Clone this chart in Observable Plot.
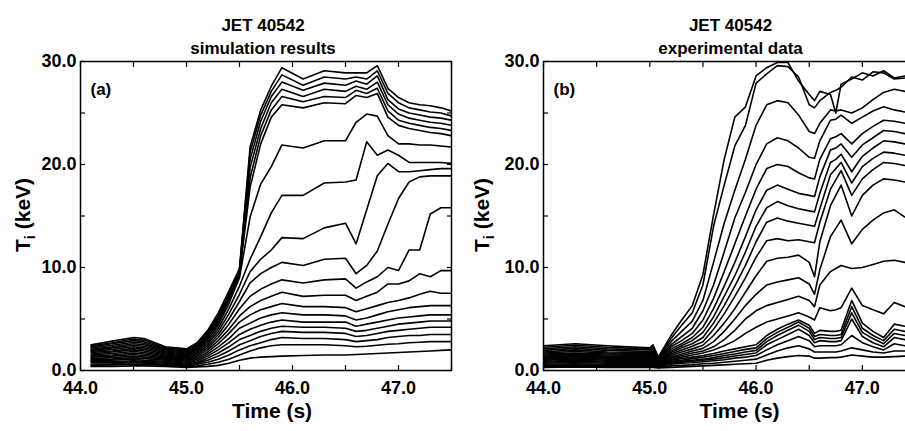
<!DOCTYPE html>
<html><head><meta charset="utf-8">
<script src="https://cdn.jsdelivr.net/npm/d3@7"></script>
<script src="https://cdn.jsdelivr.net/npm/@observablehq/plot@0.6"></script>
<style>
html,body{margin:0;padding:0;background:#fff;}
#wrap{position:relative;width:905px;height:431px;overflow:hidden;background:#fff;}
.panel{position:absolute;top:0;width:460px;height:431px;}
.panel svg{max-width:none !important;width:460px;height:431px;display:block;}
</style></head><body><div id="wrap"></div>
<script>
// ---------- axis & label data ----------
const xDomain = [44.0, 47.5];
const yDomain = [0, 30];
const xMinorTicks = [44.0, 44.5, 45.0, 45.5, 46.0, 46.5, 47.0, 47.5];
const xLabelTicks = [44.0, 45.0, 46.0, 47.0];
const yMinorTicks = [0, 5, 10, 15, 20, 25, 30];
const yLabelTicks = [0, 10, 20, 30];
const xLabel = "Time (s)";
const yLabelMain = "T", yLabelSub = "i", yLabelUnit = "\u00a0(keV)";
const titleTop = "JET 40542";
const titleA = "simulation results", titleB = "experimental data";
const tagA = "(a)", tagB = "(b)";

// ---------- panel (a): simulation, Ti (keV) per radial channel ----------
const simTimes = [44.1,44.3,44.5,44.6,44.8,45.0,45.1,45.2,45.3,45.4,45.5,45.6,45.7,45.8,45.9,46.1,46.3,46.5,46.6,46.7,46.8,46.9,47.0,47.1,47.2,47.3,47.4,47.5];
const simR01 = [2.5,2.85,3.2,3.1,2.3,2.1,2.7,3.9,5.6,7.7,9.9,21.7,25.3,27.6,29.4,28.3,29.1,28.9,28.9,28.9,29.6,27.4,26.5,26.0,25.8,25.7,25.5,25.2];
const simR02 = [2.4,2.7,3.05,2.95,2.2,2.0,2.6,3.75,5.4,7.6,9.8,21.2,24.8,27.1,28.7,27.7,28.5,28.3,28.5,28.3,29.1,26.9,26.0,25.5,25.3,25.1,25.0,24.7];
const simR03 = [2.3,2.6,2.9,2.8,2.1,1.9,2.5,3.6,5.2,7.4,9.7,20.5,24.2,26.6,28.0,27.2,27.9,27.7,28.1,27.8,28.6,26.3,25.4,25.0,24.8,24.6,24.5,24.3];
const simR04 = [2.2,2.45,2.75,2.65,2.0,1.8,2.4,3.45,5.0,7.2,9.6,19.7,23.5,26.0,27.3,26.6,27.3,27.1,27.6,27.3,28.0,25.8,24.9,24.5,24.3,24.1,24.0,23.8];
const simR05 = [2.05,2.3,2.6,2.5,1.9,1.7,2.3,3.3,4.8,7.0,9.5,18.7,22.8,25.3,26.6,26.1,26.6,26.5,27.2,26.9,27.4,25.2,24.3,24.0,23.8,23.6,23.5,23.3];
const simR06 = [1.95,2.2,2.45,2.35,1.8,1.6,2.2,3.15,4.6,6.8,9.3,17.8,22.0,24.6,25.8,25.5,26.0,25.9,26.7,26.5,26.9,24.6,23.8,23.5,23.3,23.1,23.0,22.8];
const simR07 = [1.85,2.05,2.3,2.2,1.7,1.5,2.1,3.0,4.4,6.5,9.0,14.9,18.1,19.8,21.9,21.6,22.3,22.3,24.1,24.9,24.7,22.8,22.0,22.0,21.9,21.9,21.8,21.7];
const simR08 = [1.75,1.9,2.15,2.05,1.6,1.4,2.0,2.8,4.1,6.0,8.2,10.8,13.0,15.3,17.0,17.0,18.2,18.3,18.5,22.2,20.9,21.4,20.9,20.2,20.2,20.2,20.2,20.1];
const simR09 = [1.6,1.8,2.0,1.9,1.5,1.3,1.85,2.6,3.8,5.5,7.4,9.6,10.8,11.7,12.9,12.8,13.85,14.3,12.3,15.6,18.9,20.1,19.3,19.3,19.4,19.5,19.6,19.6];
const simR10 = [1.5,1.65,1.85,1.75,1.4,1.2,1.7,2.4,3.5,5.0,6.7,8.5,9.4,10.0,10.5,10.2,10.8,10.9,9.4,10.2,11.6,14.2,16.7,18.3,18.8,18.9,18.9,18.9];
const simR11 = [1.4,1.5,1.7,1.6,1.3,1.1,1.55,2.2,3.2,4.5,6.0,7.2,7.9,8.4,8.8,8.5,8.8,8.9,8.0,8.6,9.1,10.0,9.7,11.7,11.7,15.2,15.8,15.8];
const simR12 = [1.3,1.4,1.55,1.45,1.2,1.0,1.4,2.0,2.9,4.0,5.3,6.2,6.8,7.2,7.6,7.2,7.3,7.3,6.8,7.2,7.6,8.4,8.4,8.7,9.4,9.1,9.7,9.7];
const simR13 = [1.15,1.25,1.4,1.3,1.1,0.9,1.25,1.8,2.6,3.6,4.7,5.4,5.9,6.2,6.5,6.2,6.2,6.1,5.7,6.0,6.3,6.6,6.8,7.05,7.4,7.7,7.5,7.5];
const simR14 = [1.05,1.1,1.25,1.15,1.0,0.8,1.1,1.6,2.3,3.1,4.1,4.6,5.1,5.4,5.6,5.4,5.4,5.3,4.9,5.1,5.4,5.7,5.9,6.1,6.2,6.3,6.3,6.3];
const simR15 = [0.95,1.0,1.1,1.0,0.9,0.7,0.95,1.4,2.0,2.7,3.5,4.0,4.4,4.7,4.9,4.7,4.7,4.7,4.3,4.5,4.7,4.9,5.1,5.2,5.3,5.4,5.4,5.4];
const simR16 = [0.85,0.85,0.95,0.9,0.8,0.6,0.8,1.2,1.7,2.3,3.0,3.4,3.8,4.1,4.3,4.2,4.2,4.1,3.8,3.9,4.1,4.3,4.5,4.6,4.7,4.8,4.8,4.8];
const simR17 = [0.75,0.75,0.85,0.8,0.7,0.5,0.7,1.0,1.4,1.9,2.5,2.9,3.3,3.6,3.8,3.7,3.7,3.6,3.3,3.4,3.6,3.8,3.9,4.0,4.1,4.2,4.2,4.2];
const simR18 = [0.6,0.65,0.75,0.7,0.6,0.45,0.6,0.8,1.1,1.5,2.0,2.4,2.7,3.0,3.2,3.1,3.1,3.0,2.8,2.9,3.0,3.2,3.3,3.4,3.4,3.5,3.5,3.5];
const simR19 = [0.5,0.55,0.6,0.6,0.5,0.4,0.45,0.6,0.8,1.1,1.5,1.9,2.2,2.4,2.5,2.5,2.5,2.4,2.3,2.35,2.45,2.55,2.6,2.7,2.75,2.8,2.8,2.8];
const simR20 = [0.4,0.4,0.45,0.45,0.4,0.3,0.35,0.4,0.5,0.7,1.0,1.2,1.3,1.35,1.4,1.45,1.5,1.5,1.55,1.6,1.65,1.7,1.75,1.8,1.85,1.9,1.95,2.0];

// ---------- panel (b): experimental data ----------
const expTimes = [44.0,44.3,44.6,45.0,45.03,45.08,45.2,45.3,45.4,45.5,45.6,45.7,45.8,45.9,46.0,46.1,46.2,46.3,46.4,46.5,46.55,46.6,46.7,46.75,46.8,46.9,47.0,47.1,47.2,47.3,47.4,47.5];
const expR01 = [2.4,2.6,2.4,2.2,2.5,1.3,3.4,4.9,6.3,9.3,15.1,20.5,24.6,25.6,28.6,29.4,29.9,29.9,28.1,26.8,26.2,27.1,26.8,25.0,27.8,28.3,28.9,28.6,29.1,28.4,28.6,28.3];
const expR02 = [2.25,2.45,2.25,2.1,2.35,1.25,3.1,4.4,5.6,8.3,14.0,18.0,21.8,23.8,27.9,28.8,29.6,29.5,28.5,25.8,25.5,26.2,27.0,27.2,27.5,28.5,28.2,29.0,28.9,28.3,28.4,28.2];
const expR03 = [2.1,2.3,2.1,2.0,2.2,1.2,2.8,3.8,4.8,6.8,10.5,14.3,17.5,20.5,23.8,25.8,26.2,26.0,24.8,23.2,23.0,24.0,25.3,25.2,25.3,25.0,25.5,26.3,27.0,27.3,27.1,26.9];
const expR04 = [1.95,2.15,1.95,1.85,2.05,1.15,2.5,3.3,4.1,5.8,8.3,11.5,14.8,17.3,20.0,22.0,22.6,22.3,21.6,20.7,20.6,22.3,24.3,24.4,24.8,24.0,24.6,25.2,25.6,25.3,25.1,24.9];
const expR05 = [1.8,2.0,1.8,1.75,1.9,1.1,2.3,2.9,3.6,4.9,7.0,9.6,12.3,15.0,17.6,19.6,20.0,19.8,19.2,18.7,18.6,20.5,22.5,22.7,23.0,22.0,23.0,23.7,24.3,24.2,24.0,23.8];
const expR06 = [1.7,1.85,1.7,1.65,1.8,1.05,2.1,2.6,3.2,4.2,6.0,8.2,10.5,13.0,15.6,17.5,18.0,17.6,17.2,17.0,16.9,18.8,21.4,21.6,22.0,20.7,21.9,22.6,23.3,23.2,23.0,22.8];
const expR07 = [1.6,1.7,1.6,1.55,1.7,1.0,1.9,2.4,2.9,3.7,5.2,7.2,9.2,11.5,14.0,15.8,16.4,16.0,15.7,15.5,15.4,17.2,20.2,20.5,21.0,19.3,20.8,21.6,22.3,22.2,22.0,21.8];
const expR08 = [1.5,1.6,1.5,1.45,1.6,0.95,1.75,2.2,2.6,3.2,4.6,6.3,8.2,10.2,12.5,14.4,14.8,14.5,14.3,14.1,14.0,15.7,19.0,19.6,20.2,18.2,19.8,20.6,21.2,21.1,20.9,20.7];
const expR09 = [1.4,1.5,1.4,1.35,1.45,0.9,1.6,2.0,2.35,2.8,4.0,5.5,7.2,9.0,11.0,12.6,12.8,12.6,12.7,12.5,12.4,14.4,17.6,18.5,19.4,17.0,18.6,19.5,20.2,20.1,19.9,19.7];
const expR10 = [1.3,1.4,1.3,1.25,1.35,0.85,1.45,1.8,2.1,2.45,3.4,4.6,6.0,7.6,9.2,10.6,10.9,11.0,11.2,10.5,9.1,12.5,16.0,17.0,18.0,15.0,17.0,18.0,18.6,18.5,18.3,18.1];
const expR11 = [1.2,1.3,1.2,1.15,1.25,0.8,1.3,1.6,1.9,2.15,2.8,3.8,5.0,6.3,7.4,8.3,8.6,8.8,9.0,8.4,7.4,9.8,13.0,13.8,14.6,12.3,13.7,14.6,15.3,15.6,14.9,14.7];
const expR12 = [1.1,1.2,1.1,1.05,1.1,0.75,1.2,1.45,1.7,1.9,2.3,3.0,3.9,5.0,5.8,6.3,6.6,6.9,7.2,6.8,6.2,8.3,9.6,9.9,10.2,9.9,10.0,10.3,10.6,10.7,10.5,10.4];
const expR13 = [1.0,1.1,1.0,0.95,1.0,0.7,1.1,1.3,1.5,1.7,2.0,2.4,2.9,3.6,4.2,4.7,5.0,5.3,5.6,5.2,4.9,6.1,5.8,5.9,6.1,8.0,6.3,5.9,5.5,6.6,6.2,6.0];
const expR14 = [0.9,1.0,0.9,0.85,0.9,0.65,1.0,1.15,1.3,1.45,1.65,1.9,2.1,2.3,2.5,3.4,4.0,4.5,4.9,4.4,3.6,3.9,3.8,3.8,3.9,6.8,4.6,3.8,3.2,4.5,4.3,4.2];
const expR15 = [0.8,0.9,0.8,0.75,0.8,0.6,0.9,1.0,1.15,1.3,1.45,1.65,1.85,2.05,2.2,3.1,3.7,4.2,4.7,4.1,3.3,3.5,3.4,3.4,3.5,6.2,4.1,3.4,2.9,4.0,3.8,3.7];
const expR16 = [0.7,0.8,0.7,0.65,0.7,0.5,0.8,0.9,1.0,1.1,1.25,1.45,1.6,1.8,1.95,2.8,3.4,3.9,4.4,3.8,3.0,3.2,3.1,3.1,3.2,5.6,3.7,3.1,2.6,3.6,3.4,3.3];
const expR17 = [0.6,0.65,0.6,0.55,0.6,0.45,0.7,0.8,0.9,1.0,1.1,1.25,1.4,1.55,1.7,2.5,3.0,3.5,4.0,3.4,2.7,2.9,2.8,2.8,2.9,5.0,3.3,2.7,2.3,3.2,3.0,2.9];
const expR18 = [0.5,0.55,0.5,0.45,0.5,0.4,0.6,0.7,0.75,0.85,0.95,1.05,1.2,1.3,1.45,2.0,2.5,2.9,3.3,2.9,2.3,2.4,2.4,2.4,2.5,3.4,2.7,2.3,2.0,2.6,2.4,2.3];
const expR19 = [0.4,0.45,0.4,0.35,0.4,0.3,0.45,0.5,0.55,0.65,0.7,0.8,0.9,1.0,1.1,1.5,1.9,2.2,2.4,2.1,1.8,1.8,1.8,1.8,1.9,2.2,2.0,1.8,1.7,1.9,1.9,1.8];
const expR20 = [0.3,0.35,0.3,0.3,0.3,0.25,0.3,0.35,0.4,0.45,0.5,0.55,0.6,0.65,0.7,1.0,1.2,1.35,1.45,1.4,1.2,1.2,1.25,1.25,1.3,1.5,1.4,1.3,1.3,1.35,1.4,1.4];

const simLines = [simR01,simR02,simR03,simR04,simR05,simR06,simR07,simR08,simR09,simR10,simR11,simR12,simR13,simR14,simR15,simR16,simR17,simR18,simR19,simR20];
const expLines = [expR01,expR02,expR03,expR04,expR05,expR06,expR07,expR08,expR09,expR10,expR11,expR12,expR13,expR14,expR15,expR16,expR17,expR18,expR19,expR20];

function toRows(times, lines) {
  return lines.flatMap((vals, i) => {
    if (vals.length !== times.length) console.warn("length mismatch", i, vals.length, times.length);
    return vals.map((v, j) => ({t: times[j], v, ch: i}));
  });
}

const FONT = "'Liberation Sans', Arial, Helvetica, sans-serif";
const blank = () => "";
const fmt1 = d3.format(".1f");

function makePanel(o) {
  const rows = toRows(o.times, o.lines);
  const svg = Plot.plot({
    width: 460, height: 431,
    marginTop: 61, marginBottom: 61, marginLeft: o.ml, marginRight: o.mr,
    style: {fontFamily: FONT, fontWeight: "bold", color: "black", background: "transparent", overflow: "visible", maxWidth: "none"},
    x: {domain: xDomain},
    y: {domain: yDomain},
    marks: [
      Plot.line(rows, {x: "t", y: "v", z: "ch", stroke: "black", strokeWidth: 1.6, clip: true}),
      Plot.axisX({ticks: xMinorTicks, anchor: "bottom", tickSize: -5, tickFormat: blank, label: null, strokeWidth: 1.2}),
      Plot.axisX({ticks: xMinorTicks, anchor: "top", tickSize: -5, tickFormat: blank, label: null, strokeWidth: 1.2}),
      Plot.axisY({ticks: yMinorTicks, anchor: "left", tickSize: -5, tickFormat: blank, label: null, strokeWidth: 1.2}),
      Plot.axisY({ticks: yMinorTicks, anchor: "right", tickSize: -5, tickFormat: blank, label: null, strokeWidth: 1.2}),
      Plot.axisX({ticks: xLabelTicks, anchor: "bottom", tickSize: 0, tickPadding: 11, tickFormat: fmt1, fontSize: 18, fontWeight: "bold", label: null}),
      Plot.axisY({ticks: yLabelTicks, anchor: "left", tickSize: 0, tickPadding: 4, tickFormat: fmt1, fontSize: 18, fontWeight: "bold", label: null}),
      Plot.frame({stroke: "black", strokeWidth: 1.5}),
      Plot.text([titleTop], {frameAnchor: "top", dy: -43, dx: o.tdx, fontSize: 17, fontWeight: "bold", fill: "black"}),
      Plot.text([o.title2], {frameAnchor: "top", dy: -20, dx: o.tdx, fontSize: 17, fontWeight: "bold", fill: "black"}),
      Plot.text([o.tag], {frameAnchor: "top-left", dx: 10, dy: 21, textAnchor: "start", fontSize: 17, fontWeight: "bold", fill: "black"}),
      Plot.text([xLabel], {frameAnchor: "bottom", dy: 47, dx: o.ldx, fontSize: 21, fontWeight: "bold", fill: "black"})
    ]
  });
  svg.style.maxWidth = "none";
  const yl = d3.select(svg).append("text")
    .attr("transform", `translate(${o.ylx},215) rotate(-90)`)
    .attr("text-anchor", "middle")
    .attr("font-family", FONT).attr("font-weight", "bold")
    .attr("font-size", 21).attr("fill", "black");
  yl.append("tspan").text(yLabelMain);
  yl.append("tspan").attr("dy", 5).attr("font-size", 15).text(yLabelSub);
  yl.append("tspan").attr("dy", -5).text(yLabelUnit);
  const holder = document.createElement("div");
  holder.className = "panel";
  holder.style.left = o.left + "px";
  holder.appendChild(svg);
  document.getElementById("wrap").appendChild(holder);
}

makePanel({times: simTimes, lines: simLines, title2: titleA, tag: tagA, ml: 80, mr: 9, tdx: -3, ldx: 6, ylx: 30, left: 0});
makePanel({times: expTimes, lines: expLines, title2: titleB, tag: tagB, ml: 83, mr: 5, tdx: 1, ldx: 10, ylx: 29, left: 460});
</script></body></html>
